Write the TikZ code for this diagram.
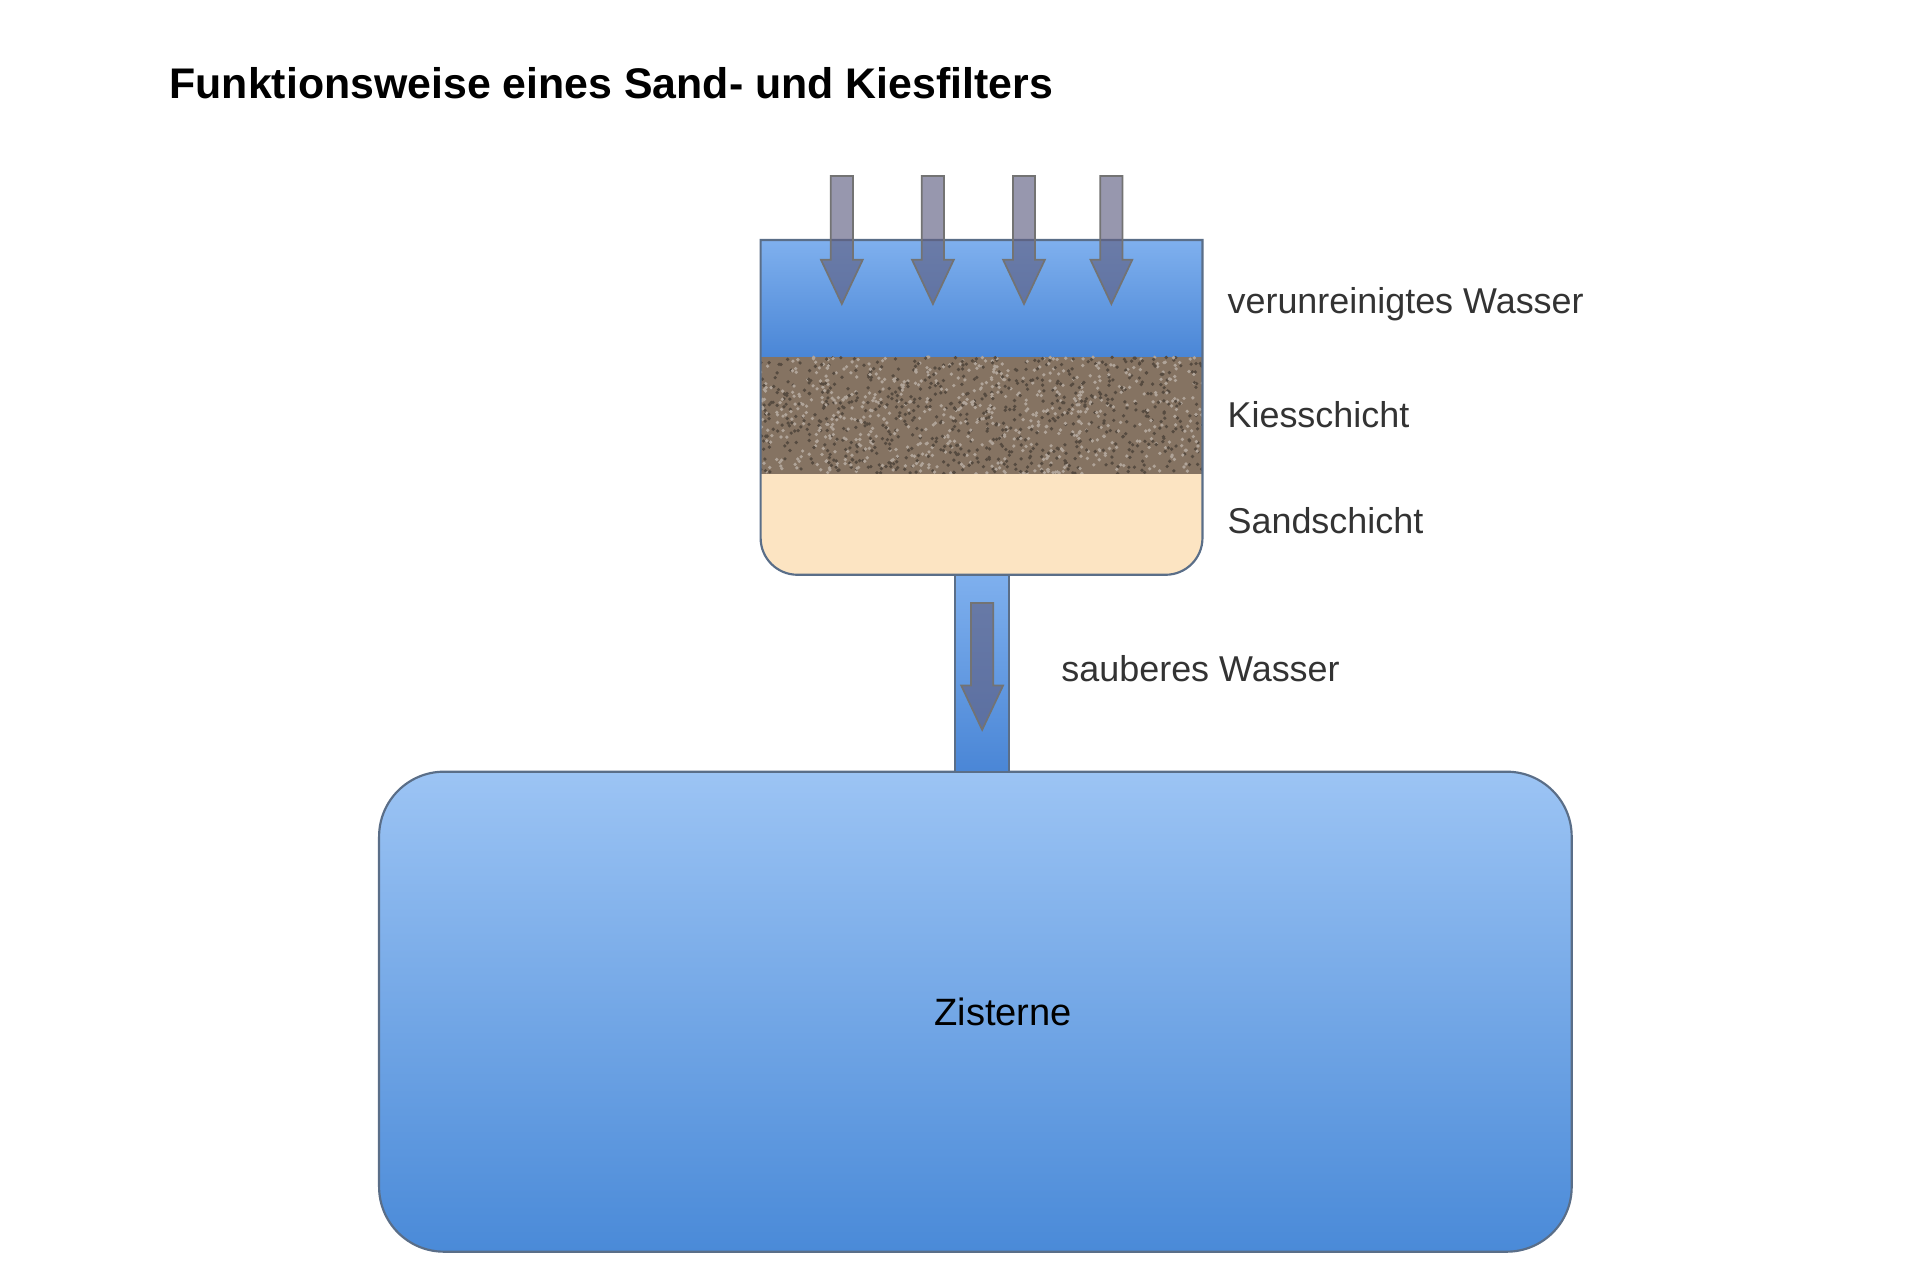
\documentclass[tikz,border=0pt]{standalone}
\usepackage{fontspec}
\setmainfont{Liberation Sans}
\usetikzlibrary{arrows.meta}
\definecolor{wtop}{HTML}{9CC4F4}
\definecolor{wbot}{HTML}{4A8AD8}
\definecolor{ftop}{HTML}{7FB0EE}
\definecolor{fbot}{HTML}{4A86D6}
\definecolor{gravel}{HTML}{857362}
\definecolor{sand}{HTML}{FCE4C2}
\definecolor{edge}{HTML}{5A6E88}
\tikzset{
  lbl/.style={anchor=west,font=\fontsize{8.3}{10}\selectfont,text=black!80},
  flow/.style={draw=black!55,line width=0.4pt,fill=black!45!blue!25!gray,fill opacity=0.65},
}
\newcommand{\flowarrow}[3]{% x, ytop, ybot
  \path[flow] (#1-9,-#2) -- (#1+9,-#2) -- (#1+9,-#3+36) -- (#1+17,-#3+36) -- (#1,-#3) -- (#1-17,-#3+36) -- (#1-9,-#3+36) -- cycle;}
\begin{document}
\begin{tikzpicture}[x=0.01cm,y=0.01cm]
\useasboundingbox (0,0) rectangle (1560,-1040);
\fill[white] (0,0) rectangle (1560,-1040);
\node[anchor=base west,inner sep=0pt,font=\fontsize{9.9}{12}\selectfont\bfseries] (title) at (137,-80) {Funktionsweise eines Sand- und Kiesfilters};
% tank
\shade[top color=wtop,bottom color=wbot,draw=edge,rounded corners=15pt,line width=0.5pt] (308,-627) rectangle (1277,-1017);
\node (tank) at (815,-822) {\fontsize{8.8}{11}\selectfont Zisterne};
% pipe
\shade[top color=ftop,bottom color=fbot,draw=edge,line width=0.4pt] (776,-466) rectangle (820,-627);
% filter
\begin{scope}
\clip (618,-195) -- (977,-195) [rounded corners=8.5pt] -- (977,-467) -- (618,-467) [sharp corners] -- cycle;
\shade[top color=ftop,bottom color=fbot] (618,-195) rectangle (977,-290);
\fill[gravel] (618,-290) rectangle (977,-385);
\pgfmathsetseed{7}
\foreach \i in {1,...,1400}{
  \pgfmathsetmacro{\px}{618+359*rnd}
  \pgfmathsetmacro{\py}{-290-95*rnd}
  \pgfmathsetmacro{\c}{rnd>0.5 ? 1 : 0}
  \ifdim\c pt>0.5pt \fill[white!35!gravel] (\px,\py) circle (1.5);\else \fill[black!35!gravel] (\px,\py) circle (1.5);\fi
}
\fill[sand] (618,-385) rectangle (977,-467);
\end{scope}
\draw[edge,line width=0.5pt] (618,-195) -- (977,-195) [rounded corners=8.5pt] -- (977,-467) -- (618,-467) [sharp corners] -- cycle;
\node (filter) at (797,-330) {};
% arrows
\foreach \x in {684,758,832,903}{\flowarrow{\x}{143}{247}}
\flowarrow{798}{490}{593}
% labels
\node[lbl] (l1) at (985,-247) {verunreinigtes Wasser};
\node[lbl] (l2) at (985,-337) {Kiesschicht};
\node[lbl] (l3) at (985,-423) {Sandschicht};
\node[lbl] (l4) at (850,-543) {sauberes Wasser};
\end{tikzpicture}
\end{document}
